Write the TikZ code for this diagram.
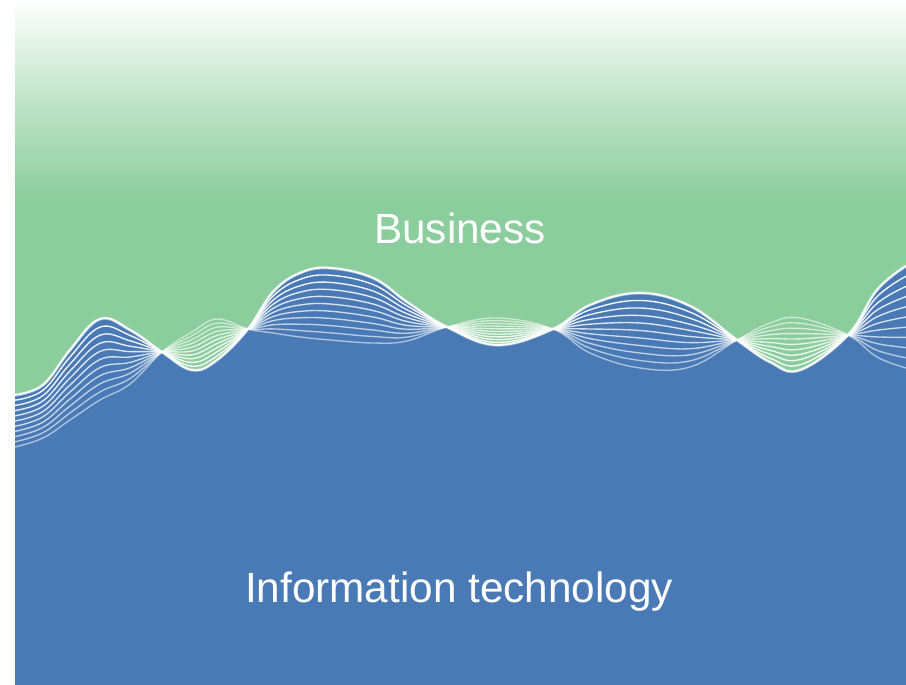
\documentclass[tikz,border=0pt]{standalone}
\usepackage{fontspec}
\setmainfont{Liberation Sans}
\definecolor{bizgreen}{RGB}{140,205,157}
\definecolor{itblue}{RGB}{74,122,182}
\tikzset{
  waveline/.style={white, line width=1.35pt, line cap=round},
  label/.style={text=white, inner sep=0pt, anchor=base, font=\fontsize{42.3}{46}\selectfont}
}
\begin{document}
\begin{tikzpicture}[x=1pt,y=-1pt]
\useasboundingbox (0,0) rectangle (906,685);
\fill[white] (0,0) rectangle (906,685);
\shade[top color=white, bottom color=bizgreen, middle color=bizgreen!55!white] (15,0) rectangle (906,200);
\fill[bizgreen] (15,199.5) rectangle (906,685);
\fill[itblue] (15,685) -- plot[smooth, tension=0.65] coordinates {
 (15,395) (43,385) (70,350) (100,319) (130,330) (162,352) (192,370) (217,360)
 (248,329) (273,292) (300,273) (330,268) (373,278) (407,302) (447,327) (497,345)
 (553,329) (590,305) (640,293) (690,306) (737,340) (770,362) (800,370) (848,335)
 (877,290) (906,266)} -- (906,685) -- cycle;
\foreach \k in {10,9,...,1} {
 \pgfmathsetmacro\t{\k/10}
 \pgfmathsetmacro\op{1-0.045*\k}
 \draw[waveline, opacity=\op] plot[smooth, tension=0.65] coordinates {
 (15,{395+\t*(447-395)}) (43,{385+\t*(438-385)}) (70,{350+\t*(420-350)})
 (100,{319+\t*(400-319)}) (130,{330+\t*(384-330)}) (162,352)
 (192,{370+\t*(332-370)}) (217,{360+\t*(319-360)}) (248,329)
 (273,{292+\t*(333-292)}) (300,{273+\t*(337-273)}) (330,{268+\t*(340-268)})
 (373,{278+\t*(343-278)}) (407,{302+\t*(341-302)}) (447,327)
 (497,{345+\t*(318-345)}) (553,329) (590,{305+\t*(353-305)})
 (640,{293+\t*(368-293)}) (690,{306+\t*(367-306)}) (737,340)
 (770,{362+\t*(323-362)}) (800,{370+\t*(318-370)}) (848,335)
 (877,{290+\t*(357-290)}) (906,{266+\t*(368-266)})};
}
\draw[white, opacity=0.4, line width=3.2pt] plot[smooth, tension=0.65] coordinates {
 (15,395) (43,385) (70,350) (100,319) (130,330) (162,352) (192,370) (217,360)
 (248,329) (273,292) (300,273) (330,268) (373,278) (407,302) (447,327) (497,345)
 (553,329) (590,305) (640,293) (690,306) (737,340) (770,362) (800,370) (848,335)
 (877,290) (906,266)};
\draw[waveline, line width=1.7pt] plot[smooth, tension=0.65] coordinates {
 (15,395) (43,385) (70,350) (100,319) (130,330) (162,352) (192,370) (217,360)
 (248,329) (273,292) (300,273) (330,268) (373,278) (407,302) (447,327) (497,345)
 (553,329) (590,305) (640,293) (690,306) (737,340) (770,362) (800,370) (848,335)
 (877,290) (906,266)};
\node[label] (biz) at (460,243) {Business};
\node[label] (it) at (459,602) {Information technology};
\end{tikzpicture}
\end{document}
